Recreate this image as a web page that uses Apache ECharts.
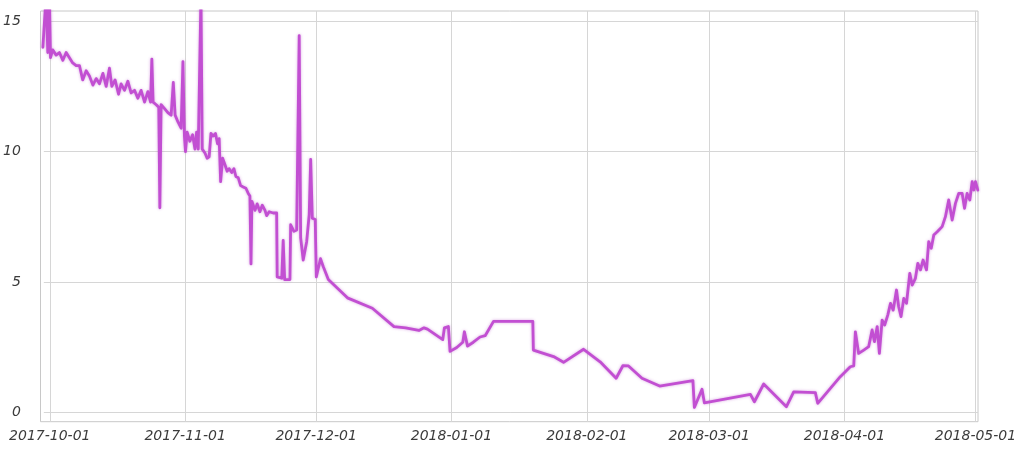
<!DOCTYPE html>
<html>
<head>
<meta charset="utf-8">
<script src="https://cdn.jsdelivr.net/npm/echarts@6/dist/echarts.min.js"></script>
<style>html,body{margin:0;padding:0;background:#fff}#c{width:1020px;height:450px}</style>
</head>
<body>
<div id="c"></div>
<script>
// ---- data ----
const times = [
"2017-09-29 10:00","2017-09-30 04:00","2017-09-30 13:00","2017-09-30 22:00","2017-10-01 04:00",
"2017-10-01 16:00","2017-10-02 11:00","2017-10-03 05:00","2017-10-04 00:00","2017-10-04 18:00",
"2017-10-05 12:00","2017-10-06 06:00","2017-10-07 01:00","2017-10-07 19:00","2017-10-08 13:00",
"2017-10-09 08:00","2017-10-10 02:00","2017-10-10 21:00","2017-10-11 15:00","2017-10-12 09:00",
"2017-10-13 04:00","2017-10-13 22:00","2017-10-14 16:00","2017-10-15 05:00","2017-10-15 23:00",
"2017-10-16 18:00","2017-10-17 08:00","2017-10-18 03:00","2017-10-18 21:00","2017-10-19 15:00",
"2017-10-20 10:00","2017-10-21 04:00","2017-10-21 22:00","2017-10-22 17:00","2017-10-23 11:00",
"2017-10-24 02:00","2017-10-24 09:00","2017-10-24 16:00","2017-10-25 09:00","2017-10-25 23:00",
"2017-10-26 05:00","2017-10-26 12:00","2017-10-27 07:00","2017-10-28 01:00","2017-10-28 19:00",
"2017-10-29 07:00","2017-10-29 17:00","2017-10-30 08:00","2017-10-31 02:00","2017-10-31 12:00",
"2017-10-31 20:00","2017-11-01 02:00","2017-11-01 11:00","2017-11-02 02:00","2017-11-02 17:00",
"2017-11-03 06:00","2017-11-03 15:00","2017-11-04 00:00","2017-11-04 15:00","2017-11-04 22:00",
"2017-11-05 13:00","2017-11-06 01:00","2017-11-06 12:00","2017-11-06 22:00","2017-11-07 10:00",
"2017-11-07 23:00","2017-11-08 10:00","2017-11-08 19:00","2017-11-09 03:00","2017-11-09 14:00",
"2017-11-10 03:00","2017-11-10 15:00","2017-11-11 02:00","2017-11-11 16:00","2017-11-12 04:00",
"2017-11-12 15:00","2017-11-13 04:00","2017-11-13 17:00","2017-11-14 07:00","2017-11-14 22:00",
"2017-11-15 11:00","2017-11-15 20:00","2017-11-16 02:00","2017-11-16 07:00","2017-11-17 00:00",
"2017-11-17 12:00","2017-11-18 03:00","2017-11-18 16:00","2017-11-19 07:00","2017-11-19 16:00",
"2017-11-20 06:00","2017-11-21 04:00","2017-11-21 23:00","2017-11-22 02:00","2017-11-23 03:00",
"2017-11-23 11:00","2017-11-23 19:00","2017-11-25 00:00","2017-11-25 04:00","2017-11-25 22:00",
"2017-11-26 13:00","2017-11-27 03:00","2017-11-27 11:00","2017-11-28 01:00","2017-11-28 20:00",
"2017-11-29 10:00","2017-11-29 18:00","2017-11-30 03:00","2017-11-30 19:00","2017-12-01 01:00",
"2017-12-02 00:00","2017-12-02 15:00","2017-12-03 19:00","2017-12-08 04:00","2017-12-13 21:00",
"2017-12-18 20:00","2017-12-21 12:00","2017-12-24 13:00","2017-12-25 17:00","2017-12-26 12:00",
"2017-12-30 00:00","2017-12-30 09:00","2017-12-31 07:00","2017-12-31 16:00","2018-01-02 05:00",
"2018-01-03 14:00","2018-01-03 23:00","2018-01-04 16:00","2018-01-06 00:00","2018-01-07 13:00",
"2018-01-08 17:00","2018-01-10 15:00","2018-01-19 15:00","2018-01-19 18:00","2018-01-24 09:00",
"2018-01-26 16:00","2018-01-31 06:00","2018-02-04 01:00","2018-02-07 17:00","2018-02-09 06:00",
"2018-02-10 13:00","2018-02-13 15:00","2018-02-17 16:00","2018-02-25 07:00","2018-02-25 15:00",
"2018-02-27 09:00","2018-02-27 22:00","2018-03-10 11:00","2018-03-11 09:00","2018-03-13 12:00",
"2018-03-18 17:00","2018-03-20 09:00","2018-03-25 08:00","2018-03-25 21:00","2018-03-31 01:00",
"2018-04-02 08:00","2018-04-03 03:00","2018-04-03 12:00","2018-04-04 06:00","2018-04-05 10:00",
"2018-04-06 13:00","2018-04-07 08:00","2018-04-07 21:00","2018-04-08 12:00","2018-04-09 00:00",
"2018-04-09 15:00","2018-04-10 05:00","2018-04-10 22:00","2018-04-11 13:00","2018-04-12 04:00",
"2018-04-12 22:00","2018-04-13 10:00","2018-04-13 23:00","2018-04-14 14:00","2018-04-15 05:00",
"2018-04-15 23:00","2018-04-16 12:00","2018-04-17 06:00","2018-04-17 19:00","2018-04-18 10:00",
"2018-04-19 00:00","2018-04-19 19:00","2018-04-20 07:00","2018-04-20 21:00","2018-04-21 11:00",
"2018-04-22 06:00","2018-04-23 09:00","2018-04-24 03:00","2018-04-24 21:00","2018-04-25 16:00",
"2018-04-26 10:00","2018-04-27 04:00","2018-04-27 23:00","2018-04-28 12:00","2018-04-29 02:00",
"2018-04-29 17:00","2018-04-30 06:00","2018-04-30 15:00","2018-05-01 00:00","2018-05-01 13:00"
];
const values = [
14.0,16.0,13.8,16.0,13.6,
13.9,13.7,13.8,13.5,13.8,
13.6,13.4,13.3,13.3,12.75,
13.1,12.9,12.55,12.8,12.6,
13.0,12.5,13.2,12.5,12.75,
12.2,12.6,12.35,12.7,12.25,
12.35,12.05,12.35,11.9,12.3,
11.9,13.55,11.9,11.8,11.7,
7.85,11.8,11.65,11.5,11.4,
12.65,11.4,11.15,10.9,13.45,
10.6,10.0,10.75,10.4,10.65,
10.1,10.75,10.1,16.0,10.1,
9.95,9.75,9.8,10.7,10.6,
10.7,10.3,10.5,8.85,9.75,
9.5,9.25,9.35,9.2,9.35,
9.05,9.0,8.7,8.65,8.6,
8.4,8.3,5.7,8.1,7.75,
8.0,7.7,7.95,7.75,7.55,
7.7,7.65,7.65,5.2,5.15,
6.6,5.1,5.1,7.2,6.95,
7.0,14.45,6.7,5.85,6.55,
7.6,9.7,7.45,7.4,5.2,
5.9,5.6,5.1,4.4,4.0,
3.3,3.25,3.15,3.25,3.2,
2.8,3.25,3.3,2.35,2.5,
2.7,3.1,2.55,2.7,2.9,
2.95,3.5,3.5,2.4,2.15,
1.93,2.43,1.95,1.32,1.8,
1.79,1.32,1.02,1.23,0.2,
0.9,0.38,0.7,0.42,1.1,
0.23,0.8,0.77,0.36,1.38,
1.76,1.79,3.1,2.27,2.4,
2.53,3.17,2.72,3.3,2.27,
3.55,3.36,3.74,4.19,3.93,
4.7,4.06,3.68,4.38,4.19,
5.34,4.89,5.15,5.72,5.47,
5.85,5.47,6.55,6.3,6.81,
6.93,7.13,7.51,8.15,7.38,
8.02,8.4,8.4,7.83,8.4,
8.15,8.85,8.53,8.85,8.53
];
const xTickLabels = ["2017-10-01","2017-11-01","2017-12-01","2018-01-01","2018-02-01","2018-03-01","2018-04-01","2018-05-01"];
const xRange = ["2017-09-28 21:00","2018-05-01 14:00"];
const yTicks = [0, 5, 10, 15];

// ---- chart ----
function parseT(s){ return new Date(s.length === 10 ? s + 'T00:00' : s.replace(' ', 'T')).getTime(); }
function fmt(v){ const d = new Date(v); const p = n => (n < 10 ? '0' : '') + n; return d.getFullYear() + '-' + p(d.getMonth() + 1) + '-' + p(d.getDate()); }

const xMin = parseT(xRange[0]), xMax = parseT(xRange[1]);
const tickVals = xTickLabels.map(parseT);
const seriesData = times.map((t, i) => [parseT(t), values[i]]);

const labelStyle = { color: '#3c3c3c', fontSize: 14, fontStyle: 'italic', fontFamily: 'DejaVu Sans' };
const gridLine = { lineStyle: { color: '#d6d6d6', width: 1 } };

const chart = echarts.init(document.getElementById('c'), null, { renderer: 'canvas' });
chart.setOption({
  animation: false,
  backgroundColor: '#ffffff',
  grid: [
    { left: 40.5, right: 42, top: 21.2, bottom: 37.3, show: false },
    { left: 40.5, right: 42, top: 11, bottom: 28.3, show: true, borderColor: '#c8c8c8', borderWidth: 1, backgroundColor: 'transparent' }
  ],
  xAxis: [
    { gridIndex: 0, type: 'value', min: xMin, max: xMax, show: false, splitLine: { show: false } },
    { gridIndex: 1, type: 'value', min: xMin, max: xMax,
      axisLine: { show: false }, axisTick: { show: false, customValues: tickVals },
      axisLabel: Object.assign({ customValues: tickVals, margin: 8, formatter: v => fmt(v), hideOverlap: false, showMinLabel: true, showMaxLabel: true }, labelStyle),
      splitLine: Object.assign({ show: true }, gridLine) }
  ],
  yAxis: [
    { gridIndex: 0, type: 'value', min: yTicks[0], max: yTicks[yTicks.length - 1], interval: 5,
      axisLine: { show: false }, axisTick: { show: false },
      axisLabel: Object.assign({ margin: 23 }, labelStyle),
      splitLine: Object.assign({ show: true }, gridLine) },
    { gridIndex: 1, type: 'value', min: -0.345, max: 15.39, show: false, splitLine: { show: false } }
  ],
  series: [{
    type: 'line', xAxisIndex: 1, yAxisIndex: 1,
    data: seriesData, showSymbol: false, symbol: 'none', clip: true,
    lineStyle: { color: '#c24fd2', width: 2.8, join: 'round', cap: 'round',
      shadowColor: 'rgba(170,60,190,0.45)', shadowBlur: 3 }
  }]
});
</script>
</body>
</html>
